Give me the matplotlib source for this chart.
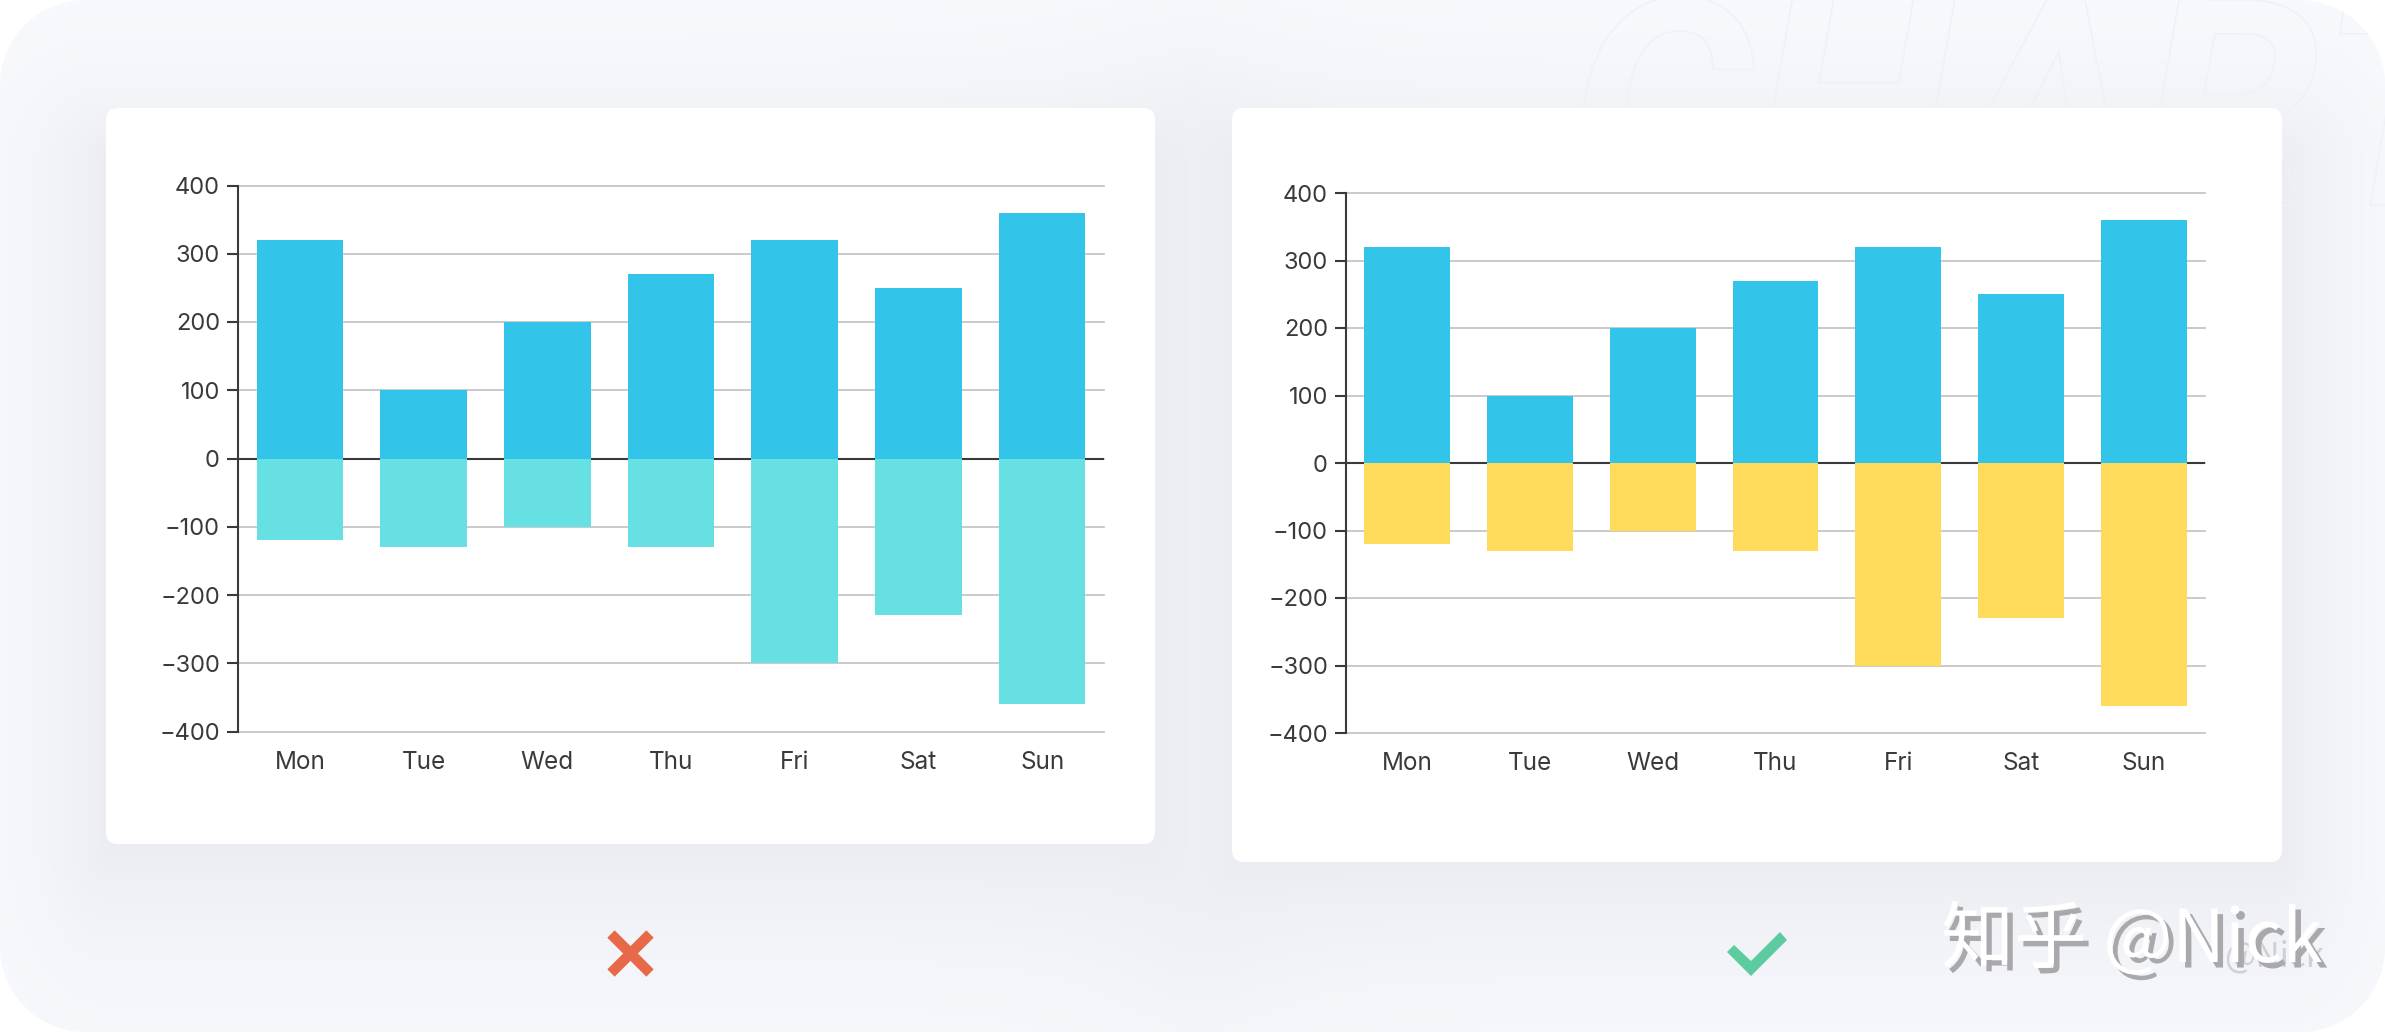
import numpy as np
import matplotlib
matplotlib.use('Agg')
from matplotlib import pyplot as plt
from matplotlib.patches import FancyBboxPatch, Polygon
import matplotlib.patheffects as pe

W, H = 2385, 1032

days = ['Mon', 'Tue', 'Wed', 'Thu', 'Fri', 'Sat', 'Sun']
pos_values = [320, 100, 200, 270, 320, 250, 360]
neg_values = [-120, -130, -100, -130, -300, -230, -360]
y_ticks = [-400, -300, -200, -100, 0, 100, 200, 300, 400]
y_labels = ['\u2212400', '\u2212300', '\u2212200', '\u2212100', '0', '100', '200', '300', '400']

BLUE = '#32c5e9'
CYAN = '#67e0e3'
YELLOW = '#ffdb5c'
DARK = '#3a3a3a'
GRID = '#c6c6c6'

plt.rcParams['font.family'] = ['Inter', 'DejaVu Sans']

fig = plt.figure(figsize=(W / 100, H / 100), dpi=100)
fig.patch.set_facecolor('white')

# full figure axes in pixels, for the backdrop
bg = fig.add_axes([0, 0, 1, 1], zorder=0)
bg.set_xlim(0, W)
bg.set_ylim(H, 0)
bg.axis('off')

cards = [(106, 108, 1155, 844), (1232, 108, 2282, 862)]

# soft shadow of the two cards, reaches further below them
xx, yy = np.meshgrid(np.arange(W) + 0.5, np.arange(H) + 0.5)
light = np.ones((H, W))
for x0, y0, x1, y1 in cards:
    dx = np.maximum(np.maximum(x0 - xx, xx - x1), 0)
    d_top = np.maximum(y0 + 50 - yy, 0)
    d_bot = np.maximum(yy - y1 - 5, 0) / 1.6
    d = np.hypot(dx, d_top + d_bot)
    light = light * (1 - np.exp(-d / 80.0))
shade = 1 - light
base = np.array([250, 251, 255]) / 255.0
dark = np.array([235, 237, 242]) / 255.0
img = base + (dark - base) * shade[..., None]
bg.imshow(img, extent=(0, W, H, 0), aspect='auto', zorder=0, interpolation='bilinear')

# outlined word behind the right card
bg.text(1570, 205, 'CHART', family=['Liberation Sans Narrow', 'Roboto'], fontsize=208,
        fontweight='bold', fontstyle='italic', color='none', ha='left', va='baseline', zorder=1,
        path_effects=[pe.Stroke(linewidth=1.2, foreground='#f0f1f7')])

# white outside the rounded corners of the backdrop
r = 85.0
qx = np.maximum(np.abs(xx - W / 2) - (W / 2 - r), 0)
qy = np.maximum(np.abs(yy - H / 2) - (H / 2 - r), 0)
mask = np.clip(np.hypot(qx, qy) - r + 0.5, 0, 1)
rgba = np.ones((H, W, 4))
rgba[..., 3] = mask
bg.imshow(rgba, extent=(0, W, H, 0), aspect='auto', zorder=2)
bg.set_xlim(0, W)
bg.set_ylim(H, 0)

for x0, y0, x1, y1 in cards:
    bg.add_patch(FancyBboxPatch((x0 + 12, y0 + 12), x1 - x0 - 24, y1 - y0 - 24,
                                boxstyle='round,pad=12,rounding_size=12',
                                fc='white', ec='none', zorder=3))

# wrong / right icons
bg.plot([611, 650], [934, 973], color='#e8694a', lw=7.5, solid_capstyle='butt', zorder=4)
bg.plot([650, 611], [934, 973], color='#e8694a', lw=7.5, solid_capstyle='butt', zorder=4)
bg.add_patch(Polygon([(1727, 952), (1734, 945), (1751, 961), (1780, 932), (1787, 940), (1751, 976)],
                     closed=True, fc='#5ccba0', ec='none', zorder=4))

# site watermark
bg.text(2224, 966, '@Nick', family=['Noto Sans CJK SC', 'DejaVu Sans'], fontsize=24,
        color='#cfd0d5', ha='left', va='baseline', zorder=5)
bg.text(1941, 962, '知乎 @Nick', family=['Noto Sans CJK SC', 'DejaVu Sans'], fontsize=52.5,
        color='white', ha='left', va='baseline', zorder=6,
        path_effects=[pe.withSimplePatchShadow(offset=(4, -4), shadow_rgbFace='#a9a9ad', alpha=1.0)])


def draw_chart(box, neg_color):
    x0, y0, x1, y1 = box
    ax = fig.add_axes([x0 / W, 1 - y1 / H, (x1 - x0) / W, (y1 - y0) / H], zorder=2)
    ax.patch.set_alpha(0)
    x = np.arange(len(days))
    ax.bar(x, pos_values, width=0.7, color=BLUE, zorder=3)
    ax.bar(x, neg_values, width=0.7, color=neg_color, zorder=3)
    ax.set_xlim(-0.5, 6.5)
    ax.set_ylim(-400, 400)
    ax.set_yticks(y_ticks)
    ax.set_yticklabels(y_labels)
    ax.set_xticks(x)
    ax.set_xticklabels(days)
    ax.yaxis.grid(True, color=GRID, lw=1.3, zorder=1)
    for line in ax.get_ygridlines():
        line.set_clip_on(False)
    ax.set_axisbelow(True)
    ax.axhline(0, color=DARK, lw=1.5, zorder=2)
    for s in ['top', 'right', 'bottom']:
        ax.spines[s].set_visible(False)
    ax.spines['left'].set_color(DARK)
    ax.spines['left'].set_linewidth(1.5)
    ax.tick_params(axis='y', length=8, width=1.5, color=DARK, labelcolor=DARK, labelsize=17, pad=5)
    ax.tick_params(axis='x', length=0, labelcolor=DARK, labelsize=17.5, pad=14)
    return ax


draw_chart((238, 185.5, 1104, 731.5), CYAN)
draw_chart((1346, 193, 2205, 733), YELLOW)

fig.savefig('out.png', dpi=100)
